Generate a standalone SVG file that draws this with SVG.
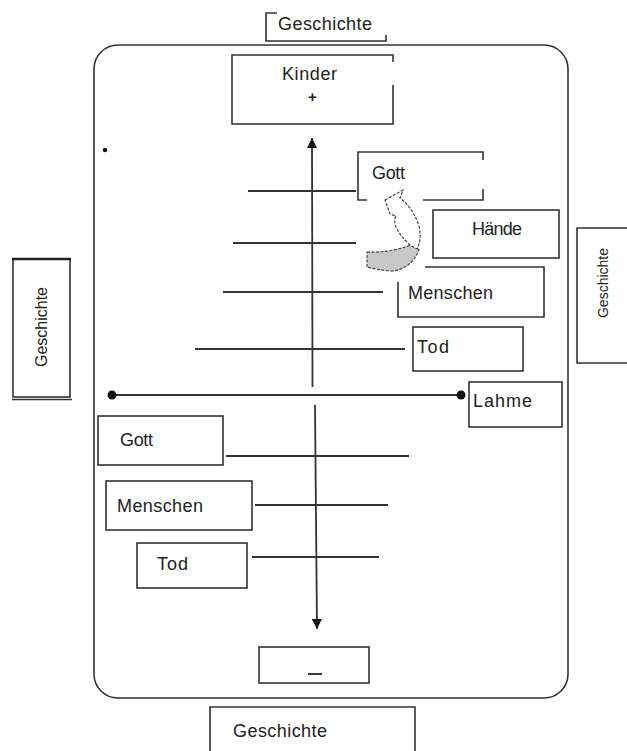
<svg xmlns="http://www.w3.org/2000/svg" width="627" height="751" viewBox="0 0 627 751">
<style>
.b{fill:none;stroke:#333;stroke-width:1.6}
.t{font-family:"Liberation Sans",Arial,sans-serif;font-size:18px;fill:#222}
.l{stroke:#333;stroke-width:1.8;fill:none}
</style>
<defs>
<marker id="ah" viewBox="0 0 10 10" refX="10" refY="5" markerWidth="10" markerHeight="10" markerUnits="userSpaceOnUse" orient="auto"><path d="M0,0 L10,5 L0,10 Z" fill="#111"/></marker>
</defs>
<rect width="627" height="751" fill="#fff"/>
<g id="frame"><rect x="94" y="45" width="474" height="653" rx="24" class="b" stroke-width="2"/></g>
<g id="connectors">
<line x1="312.5" y1="387" x2="312" y2="138" class="l" marker-end="url(#ah)"/>
<line x1="315" y1="405" x2="317" y2="629" class="l" marker-end="url(#ah)"/>
<line x1="112" y1="395" x2="461" y2="395" class="l"/>
<circle cx="112" cy="395" r="4.5" fill="#111"/>
<circle cx="461" cy="395" r="4.5" fill="#111"/>
<line x1="248" y1="191" x2="356" y2="191" class="l"/>
<line x1="233" y1="243" x2="356" y2="243" class="l"/>
<line x1="223" y1="292" x2="383" y2="292" class="l"/>
<line x1="195" y1="349" x2="405" y2="349" class="l"/>
<line x1="226" y1="456" x2="409" y2="456" class="l"/>
<line x1="255" y1="505" x2="388" y2="505" class="l"/>
<line x1="252" y1="557" x2="379" y2="557" class="l"/>
<circle cx="105" cy="150" r="2.2" fill="#111"/>
</g>
<g id="curved-arrow">
<path d="M367,252 Q392,253 413,244 L419,250 Q411,269 392,271 Q377,270 367,267 Z" fill="#c8c8c8" stroke="#444" stroke-width="1.2" stroke-dasharray="3,1.5"/>
<path d="M385,200 L403,190 L400,198 Q413,208 419,226 Q422,240 417,249 L411,246 Q402,238 397,229 Q393,222 396,216 L390,214 Z" fill="#fff" stroke="#444" stroke-width="1.2" stroke-dasharray="3,1.5"/>
</g>
<g id="geschichte-top">
<path d="M277,13 H266 V41 H386 V35" class="b"/>
<text x="278" y="30" class="t" textLength="94">Geschichte</text>
</g>
<g id="kinder">
<path d="M393,62 V55 H232 V124 H393 V85" class="b"/>
<text x="282" y="80" class="t" textLength="55">Kinder</text>
<text x="312.5" y="102" class="t" style="font-size:15px;font-weight:bold" text-anchor="middle">+</text>
</g>
<g id="gott-oben">
<path d="M367,200 H358 V152 H483 V160 M423,200 H483 V189" class="b"/>
<text x="372" y="179" class="t" textLength="33">Gott</text>
</g>
<g id="haende">
<rect x="433" y="210" width="126" height="48" class="b"/>
<text x="472" y="235" class="t" textLength="50">Hände</text>
</g>
<g id="menschen-oben">
<path d="M425,267 H544 V317 H398 V282" class="b"/>
<text x="408" y="299" class="t" textLength="85">Menschen</text>
</g>
<g id="tod-oben">
<rect x="413" y="327" width="110" height="44" class="b"/>
<text x="417" y="353" class="t" textLength="32">Tod</text>
</g>
<g id="lahme">
<rect x="469" y="382" width="93" height="45" class="b"/>
<text x="473" y="407" class="t" textLength="59">Lahme</text>
</g>
<g id="gott-unten">
<rect x="98" y="416" width="125" height="49" class="b"/>
<text x="120" y="446" class="t" textLength="33">Gott</text>
</g>
<g id="menschen-unten">
<rect x="106" y="481" width="146" height="49" class="b"/>
<text x="117" y="512" class="t" textLength="86">Menschen</text>
</g>
<g id="tod-unten">
<rect x="137" y="543" width="110" height="45" class="b"/>
<text x="157" y="570" class="t" textLength="31">Tod</text>
</g>
<g id="minus">
<rect x="259" y="647" width="110" height="36" class="b"/>
<line x1="308" y1="674" x2="322" y2="674" stroke="#222" stroke-width="1.8"/>
</g>
<g id="geschichte-bottom">
<path d="M210,751 V707 H415 V751" class="b"/>
<text x="233" y="737" class="t" textLength="94">Geschichte</text>
</g>
<g id="geschichte-left">
<rect x="13" y="259" width="57" height="138" class="b"/>
<line x1="12" y1="259" x2="71" y2="259" stroke="#222" stroke-width="2.5"/>
<line x1="12" y1="399.5" x2="72" y2="399.5" stroke="#333" stroke-width="1.4"/>
<text transform="translate(47,327) rotate(-90)" class="t" style="font-size:16px" text-anchor="middle">Geschichte</text>
</g>
<g id="geschichte-right">
<path d="M627,228 H577 V363 H627" class="b"/>
<text transform="translate(608,283) rotate(-90)" class="t" style="font-size:14px" text-anchor="middle">Geschichte</text>
</g>
</svg>
